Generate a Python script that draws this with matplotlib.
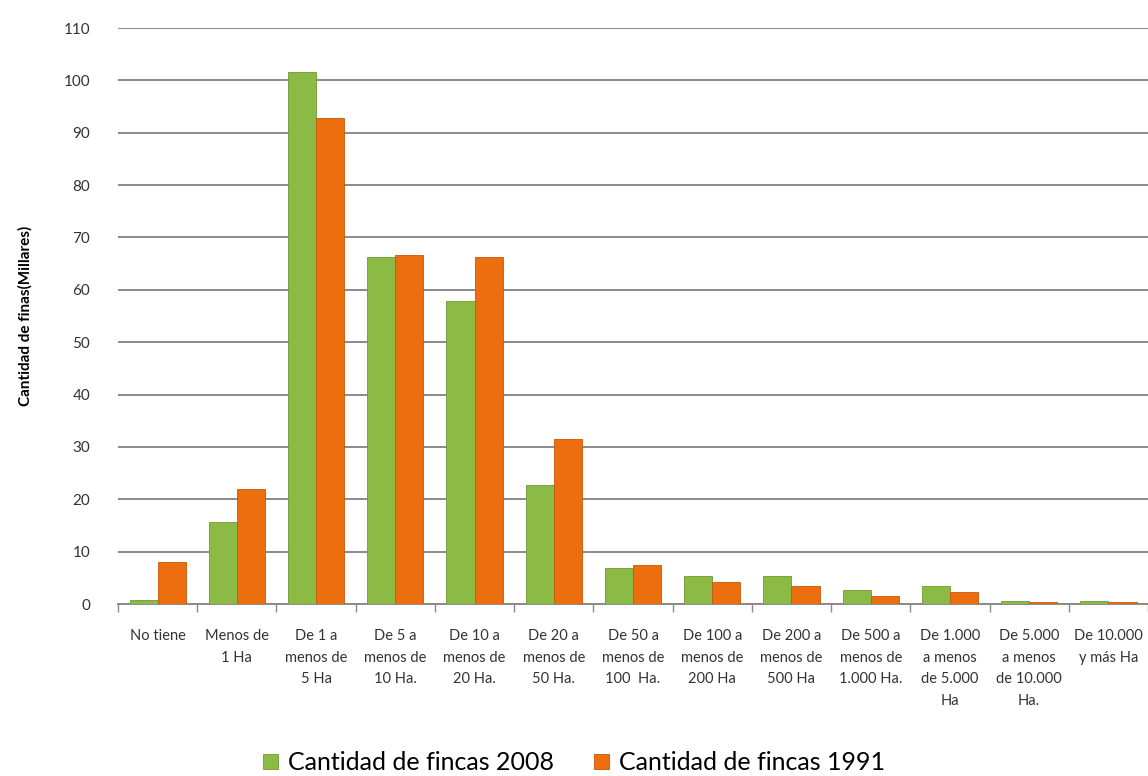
import numpy as np
import matplotlib
matplotlib.use('Agg')
import matplotlib.pyplot as plt
from matplotlib.ticker import FixedLocator, NullFormatter

# categories (size of farm) and counts in thousands
categories = [
    'No tiene',
    'Menos de\n1 Ha',
    'De 1 a\nmenos de\n5 Ha',
    'De 5 a\nmenos de\n10 Ha.',
    'De 10 a\nmenos de\n20 Ha.',
    'De 20 a\nmenos de\n50 Ha.',
    'De 50 a\nmenos de\n100  Ha.',
    'De 100 a\nmenos de\n200 Ha',
    'De 200 a\nmenos de\n500 Ha',
    'De 500 a\nmenos de\n1.000 Ha.',
    'De 1.000\na menos\nde 5.000\nHa',
    'De 5.000\na menos\nde 10.000\nHa.',
    'De 10.000\ny más Ha',
]
fincas_2008 = [0.7, 15.7, 101.6, 66.3, 57.9, 22.7, 6.9, 5.3, 5.3, 2.7, 3.5, 0.6, 0.5]
fincas_1991 = [8.0, 22.0, 92.8, 66.6, 66.3, 31.5, 7.5, 4.3, 3.5, 1.5, 2.3, 0.4, 0.3]

plt.rcParams['font.family'] = ['Lato', 'DejaVu Sans']

fig = plt.figure(figsize=(11.48, 7.76), dpi=100)
ax = fig.add_axes([0.1028, 0.2216, 0.8972, 0.7423])

x = np.arange(len(categories))
w = 0.355
ax.bar(x - w / 2, fincas_2008, w, color='#8cbb45', edgecolor='#6f9a30', linewidth=0.6,
       label='Cantidad de fincas 2008', zorder=3)
ax.bar(x + w / 2, fincas_1991, w, color='#ec6e0e', edgecolor='#c45808', linewidth=0.6,
       label='Cantidad de fincas 1991', zorder=3)

ax.set_xlim(-0.5, len(categories) - 0.5)
ax.set_ylim(0, 110)
ax.set_yticks(range(0, 111, 10))
ax.grid(axis='y', color='#8a8a8a', linewidth=1.4, zorder=0)

ax.set_xticks(x)
ax.set_xticklabels(categories, fontsize=10.5, linespacing=1.7, va='top')
ax.xaxis.set_minor_locator(FixedLocator(np.arange(-0.5, len(categories), 1)))
ax.xaxis.set_minor_formatter(NullFormatter())
ax.tick_params(axis='x', which='major', length=0, pad=18, colors='#333333')
ax.tick_params(axis='x', which='minor', length=6, color='#8a8a8a', width=1)
ax.tick_params(axis='y', length=0, pad=20, labelsize=11, colors='#333333')

for s in ['top', 'right', 'left']:
    ax.spines[s].set_visible(False)
ax.spines['bottom'].set_color('#8a8a8a')
ax.spines['bottom'].set_linewidth(1.4)

ax.set_ylabel('Cantidad de finas(Millares)', fontsize=11, fontweight='bold', labelpad=22)

fig.legend(loc='center', bbox_to_anchor=(0.5, 0.017), ncol=2, frameon=False,
           fontsize=18, handlelength=0.6, handleheight=0.6, handletextpad=0.4,
           columnspacing=1.6)

fig.savefig('out.png', dpi=100)
